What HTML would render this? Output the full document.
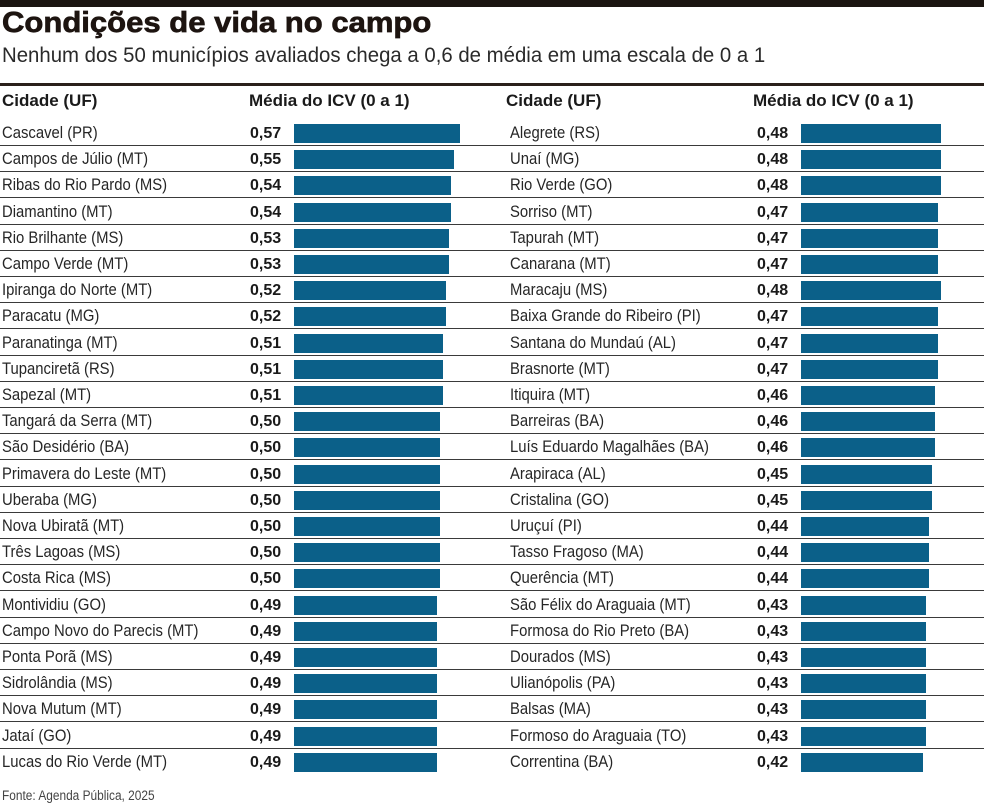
<!DOCTYPE html>
<html><head><meta charset="utf-8">
<style>
*{margin:0;padding:0;box-sizing:border-box}
body{width:984px;height:805px;background:#fff;position:relative;overflow:hidden;font-family:"Liberation Sans",Arial,sans-serif;color:#222}
.band{position:absolute;left:0;top:0;width:984px;height:7px;background:#1b1511}
.title{position:absolute;left:2px;top:8.5px;font-size:29px;line-height:29px;font-weight:bold;color:#1d1410;-webkit-text-stroke:0.7px #1d1410;transform:scaleX(1.07);transform-origin:0 0;white-space:nowrap}
.sub{position:absolute;left:2px;top:44.5px;font-size:21px;line-height:21px;color:#2a2a2a;transform:scaleX(.97);transform-origin:0 0;white-space:nowrap}
.rule{position:absolute;left:0;top:83px;width:984px;height:3px;background:#2a201b}
.h{position:absolute;top:91.6px;font-size:17px;line-height:17px;font-weight:bold;color:#1a1a1a;white-space:nowrap}
.r{position:absolute;left:0;width:984px;height:19px}
.r.s::after{content:"";position:absolute;left:0;top:21px;width:984px;height:1px;background:#3a3a3a}
.n{position:absolute;top:0;font-size:16.5px;line-height:19px;color:#262626;transform:scaleX(.9);transform-origin:0 0;white-space:nowrap}
.v{position:absolute;top:0;font-size:16px;line-height:19px;font-weight:bold;color:#1a1a1a;white-space:nowrap}
.b{position:absolute;top:0;height:19px;background:#0b6089}
.n1{left:2px}.v1{left:250px}.b1{left:294px}
.n2{left:510px}.v2{left:757px}.b2{left:801px}
.foot{position:absolute;left:2px;top:789px;font-size:13.5px;line-height:13.5px;color:#444;transform:scaleX(.88);transform-origin:0 0;white-space:nowrap}
</style></head><body>
<div class="band"></div>
<div class="title">Condições de vida no campo</div>
<div class="sub">Nenhum dos 50 municípios avaliados chega a 0,6 de média em uma escala de 0 a 1</div>
<div class="rule"></div>
<div class="h" style="left:2px">Cidade (UF)</div>
<div class="h" style="left:249px">Média do ICV (0 a 1)</div>
<div class="h" style="left:506px">Cidade (UF)</div>
<div class="h" style="left:753px">Média do ICV (0 a 1)</div>

<div class="r s" style="top:124px"><span class="n n1">Cascavel (PR)</span><span class="v v1">0,57</span><div class="b b1" style="width:166px"></div><span class="n n2">Alegrete (RS)</span><span class="v v2">0,48</span><div class="b b2" style="width:140px"></div></div>
<div class="r s" style="top:150.2px"><span class="n n1">Campos de Júlio (MT)</span><span class="v v1">0,55</span><div class="b b1" style="width:160px"></div><span class="n n2">Unaí (MG)</span><span class="v v2">0,48</span><div class="b b2" style="width:140px"></div></div>
<div class="r s" style="top:176.4px"><span class="n n1">Ribas do Rio Pardo (MS)</span><span class="v v1">0,54</span><div class="b b1" style="width:157px"></div><span class="n n2">Rio Verde (GO)</span><span class="v v2">0,48</span><div class="b b2" style="width:140px"></div></div>
<div class="r s" style="top:202.6px"><span class="n n1">Diamantino (MT)</span><span class="v v1">0,54</span><div class="b b1" style="width:157px"></div><span class="n n2">Sorriso (MT)</span><span class="v v2">0,47</span><div class="b b2" style="width:137px"></div></div>
<div class="r s" style="top:228.8px"><span class="n n1">Rio Brilhante (MS)</span><span class="v v1">0,53</span><div class="b b1" style="width:154.5px"></div><span class="n n2">Tapurah (MT)</span><span class="v v2">0,47</span><div class="b b2" style="width:137px"></div></div>
<div class="r s" style="top:255px"><span class="n n1">Campo Verde (MT)</span><span class="v v1">0,53</span><div class="b b1" style="width:154.5px"></div><span class="n n2">Canarana (MT)</span><span class="v v2">0,47</span><div class="b b2" style="width:137px"></div></div>
<div class="r s" style="top:281.2px"><span class="n n1">Ipiranga do Norte (MT)</span><span class="v v1">0,52</span><div class="b b1" style="width:151.5px"></div><span class="n n2">Maracaju (MS)</span><span class="v v2">0,48</span><div class="b b2" style="width:140px"></div></div>
<div class="r s" style="top:307.4px"><span class="n n1">Paracatu (MG)</span><span class="v v1">0,52</span><div class="b b1" style="width:151.5px"></div><span class="n n2">Baixa Grande do Ribeiro (PI)</span><span class="v v2">0,47</span><div class="b b2" style="width:137px"></div></div>
<div class="r s" style="top:333.6px"><span class="n n1">Paranatinga (MT)</span><span class="v v1">0,51</span><div class="b b1" style="width:148.7px"></div><span class="n n2">Santana do Mundaú (AL)</span><span class="v v2">0,47</span><div class="b b2" style="width:137px"></div></div>
<div class="r s" style="top:359.8px"><span class="n n1">Tupanciretã (RS)</span><span class="v v1">0,51</span><div class="b b1" style="width:148.7px"></div><span class="n n2">Brasnorte (MT)</span><span class="v v2">0,47</span><div class="b b2" style="width:137px"></div></div>
<div class="r s" style="top:386px"><span class="n n1">Sapezal (MT)</span><span class="v v1">0,51</span><div class="b b1" style="width:148.7px"></div><span class="n n2">Itiquira (MT)</span><span class="v v2">0,46</span><div class="b b2" style="width:134px"></div></div>
<div class="r s" style="top:412.2px"><span class="n n1">Tangará da Serra (MT)</span><span class="v v1">0,50</span><div class="b b1" style="width:145.7px"></div><span class="n n2">Barreiras (BA)</span><span class="v v2">0,46</span><div class="b b2" style="width:134px"></div></div>
<div class="r s" style="top:438.4px"><span class="n n1">São Desidério (BA)</span><span class="v v1">0,50</span><div class="b b1" style="width:145.7px"></div><span class="n n2">Luís Eduardo Magalhães (BA)</span><span class="v v2">0,46</span><div class="b b2" style="width:134px"></div></div>
<div class="r s" style="top:464.6px"><span class="n n1">Primavera do Leste (MT)</span><span class="v v1">0,50</span><div class="b b1" style="width:145.7px"></div><span class="n n2">Arapiraca (AL)</span><span class="v v2">0,45</span><div class="b b2" style="width:131.2px"></div></div>
<div class="r s" style="top:490.8px"><span class="n n1">Uberaba (MG)</span><span class="v v1">0,50</span><div class="b b1" style="width:145.7px"></div><span class="n n2">Cristalina (GO)</span><span class="v v2">0,45</span><div class="b b2" style="width:131.2px"></div></div>
<div class="r s" style="top:517px"><span class="n n1">Nova Ubiratã (MT)</span><span class="v v1">0,50</span><div class="b b1" style="width:145.7px"></div><span class="n n2">Uruçuí (PI)</span><span class="v v2">0,44</span><div class="b b2" style="width:128.3px"></div></div>
<div class="r s" style="top:543.2px"><span class="n n1">Três Lagoas (MS)</span><span class="v v1">0,50</span><div class="b b1" style="width:145.7px"></div><span class="n n2">Tasso Fragoso (MA)</span><span class="v v2">0,44</span><div class="b b2" style="width:128.3px"></div></div>
<div class="r s" style="top:569.4px"><span class="n n1">Costa Rica (MS)</span><span class="v v1">0,50</span><div class="b b1" style="width:145.7px"></div><span class="n n2">Querência (MT)</span><span class="v v2">0,44</span><div class="b b2" style="width:128.3px"></div></div>
<div class="r s" style="top:595.6px"><span class="n n1">Montividiu (GO)</span><span class="v v1">0,49</span><div class="b b1" style="width:142.8px"></div><span class="n n2">São Félix do Araguaia (MT)</span><span class="v v2">0,43</span><div class="b b2" style="width:125.3px"></div></div>
<div class="r s" style="top:621.8px"><span class="n n1">Campo Novo do Parecis (MT)</span><span class="v v1">0,49</span><div class="b b1" style="width:142.8px"></div><span class="n n2">Formosa do Rio Preto (BA)</span><span class="v v2">0,43</span><div class="b b2" style="width:125.3px"></div></div>
<div class="r s" style="top:648px"><span class="n n1">Ponta Porã (MS)</span><span class="v v1">0,49</span><div class="b b1" style="width:142.8px"></div><span class="n n2">Dourados (MS)</span><span class="v v2">0,43</span><div class="b b2" style="width:125.3px"></div></div>
<div class="r s" style="top:674.2px"><span class="n n1">Sidrolândia (MS)</span><span class="v v1">0,49</span><div class="b b1" style="width:142.8px"></div><span class="n n2">Ulianópolis (PA)</span><span class="v v2">0,43</span><div class="b b2" style="width:125.3px"></div></div>
<div class="r s" style="top:700.4px"><span class="n n1">Nova Mutum (MT)</span><span class="v v1">0,49</span><div class="b b1" style="width:142.8px"></div><span class="n n2">Balsas (MA)</span><span class="v v2">0,43</span><div class="b b2" style="width:125.3px"></div></div>
<div class="r s" style="top:726.6px"><span class="n n1">Jataí (GO)</span><span class="v v1">0,49</span><div class="b b1" style="width:142.8px"></div><span class="n n2">Formoso do Araguaia (TO)</span><span class="v v2">0,43</span><div class="b b2" style="width:125.3px"></div></div>
<div class="r" style="top:752.8px"><span class="n n1">Lucas do Rio Verde (MT)</span><span class="v v1">0,49</span><div class="b b1" style="width:142.8px"></div><span class="n n2">Correntina (BA)</span><span class="v v2">0,42</span><div class="b b2" style="width:122.4px"></div></div>

<div class="foot">Fonte: Agenda Pública, 2025</div>
</body></html>
